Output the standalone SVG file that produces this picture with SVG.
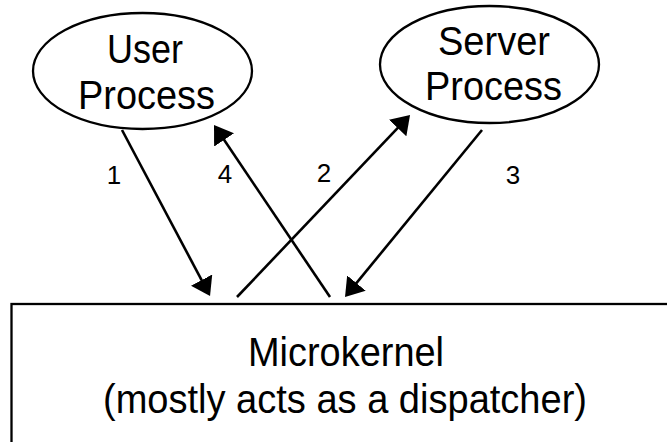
<svg xmlns="http://www.w3.org/2000/svg" width="667" height="442" viewBox="0 0 667 442">
<style>
  .shape { fill: #fff; stroke: #000; stroke-width: 2.3; }
  .big { font-family: "Liberation Sans", Arial, sans-serif; font-size: 41px; fill: #000; text-anchor: middle; }
  .mid { font-family: "Liberation Sans", Arial, sans-serif; font-size: 40px; fill: #000; text-anchor: middle; }
  .num { font-family: "Liberation Sans", Arial, sans-serif; font-size: 26px; fill: #000; text-anchor: middle; }
  .conn { stroke: #000; stroke-width: 2.6; fill: none; marker-end: url(#head); }
</style>
<defs>
  <marker id="head" viewBox="0 0 18 24" refX="13" refY="12" markerWidth="18" markerHeight="24" markerUnits="userSpaceOnUse" orient="auto">
    <path d="M0,0 L18,12 L0,24 z" fill="#000"/>
  </marker>
</defs>
<rect width="667" height="442" fill="#fff"/>
<g id="user-process">
  <ellipse class="shape" cx="142.5" cy="71" rx="109.5" ry="58"/>
  <text class="big" x="145" y="63" textLength="76" lengthAdjust="spacingAndGlyphs">User</text>
  <text class="big" x="146.5" y="109" textLength="137" lengthAdjust="spacingAndGlyphs">Process</text>
</g>
<g id="server-process">
  <ellipse class="shape" cx="489.5" cy="64.5" rx="109.5" ry="58.5"/>
  <text class="big" x="494" y="55" textLength="112" lengthAdjust="spacingAndGlyphs">Server</text>
  <text class="big" x="493.5" y="100" textLength="137" lengthAdjust="spacingAndGlyphs">Process</text>
</g>
<g id="microkernel">
  <rect class="shape" x="11.5" y="304" width="700" height="200"/>
  <text class="mid" x="346" y="366" textLength="196" lengthAdjust="spacingAndGlyphs">Microkernel</text>
  <text class="mid" x="345" y="413" textLength="484" lengthAdjust="spacingAndGlyphs">(mostly acts as a dispatcher)</text>
</g>
<g id="connectors">
  <line class="conn" x1="122" y1="130" x2="207.7" y2="291.6"/>
  <line class="conn" x1="330" y1="297" x2="216.8" y2="129.1"/>
  <line class="conn" x1="237" y1="297" x2="406.6" y2="118.6"/>
  <line class="conn" x1="482" y1="130" x2="348.2" y2="293.1"/>
  <text class="num" x="114" y="184">1</text>
  <text class="num" x="225" y="183">4</text>
  <text class="num" x="324" y="182">2</text>
  <text class="num" x="513" y="184">3</text>
</g>
</svg>
